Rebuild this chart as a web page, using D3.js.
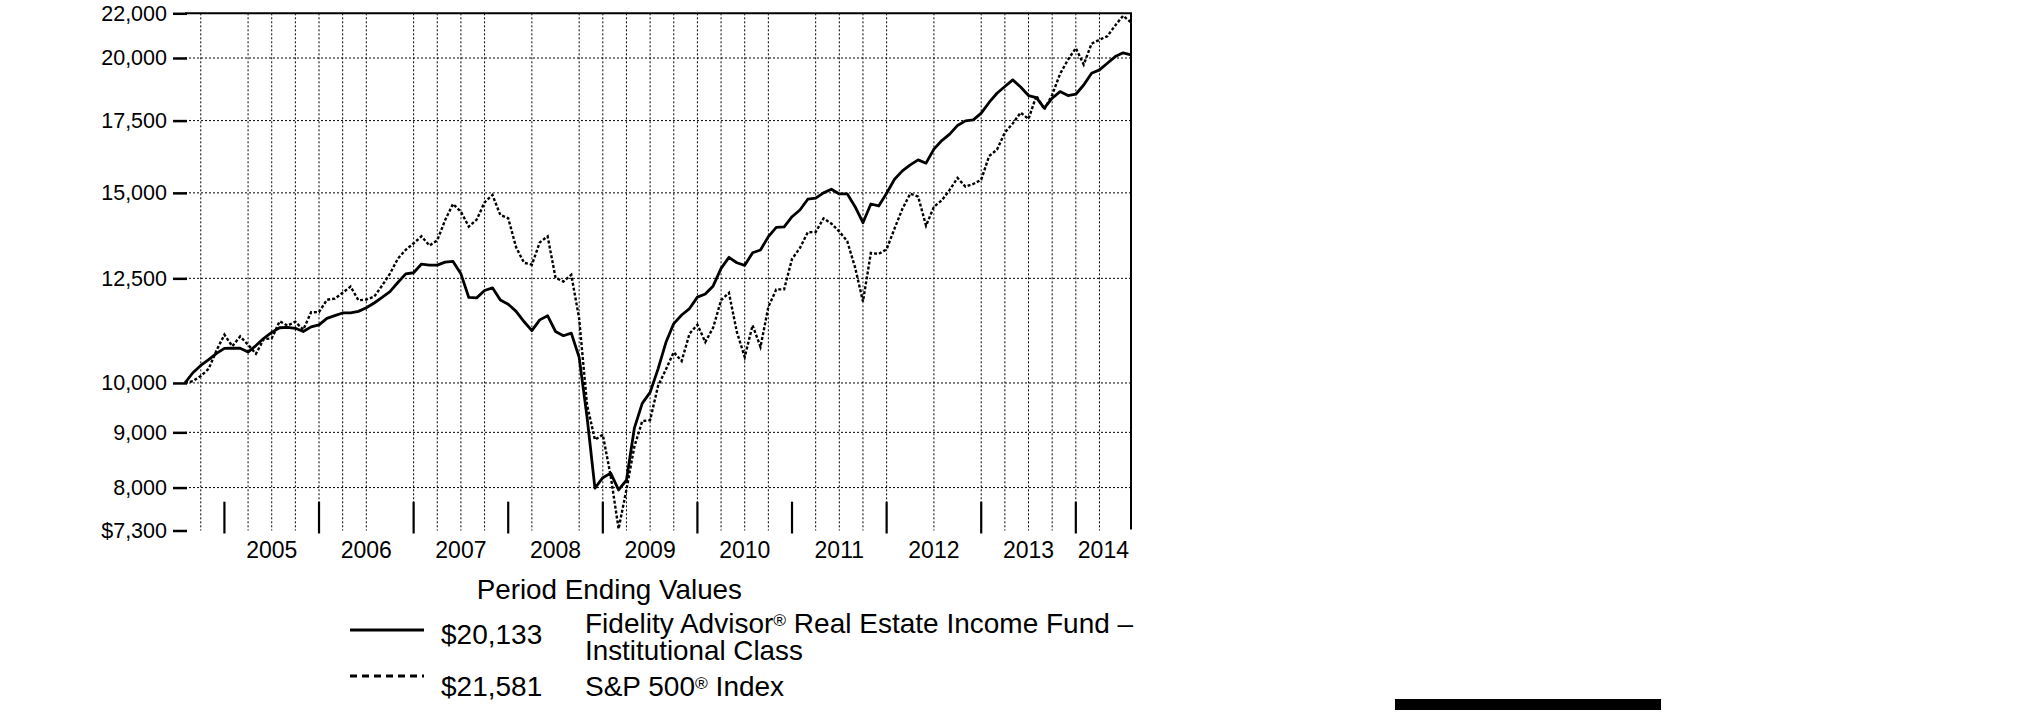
<!DOCTYPE html>
<html><head><meta charset="utf-8">
<script src="https://cdn.jsdelivr.net/npm/d3@7"></script>
<style>
body{margin:0;background:#fff}
svg{display:block}
text{font-family:"Liberation Sans",Arial,Helvetica,sans-serif;fill:#000}
</style>
</head><body>
<svg id="c" width="2025" height="728"></svg>
<script>
// Monthly values, Jul 31 2004 (index 0) to Jul 31 2014 (index 120)
const fundValues = [10000,10220,10380,10510,10650,10765,10768,10768,10680,10830,11000,11140,11250,11260,11236,11160,11270,11320,11478,11545,11610,
11610,11650,11740,11860,12000,12150,12390,12620,12650,12887,12860,12857,12940,12960,12620,12000,11990,12180,12250,11934,
11830,11650,11400,11180,11440,11540,11160,11060,11120,10560,9300,7990,8170,8250,7960,8130,9080,9575,9800,10300,
10900,11350,11560,11720,12010,12090,12300,12770,13073,12923,12851,13200,13278,13662,13938,13950,14256,14462,14798,14830,
15000,15117,14966,14970,14564,14075,14648,14586,14989,15443,15720,15922,16092,15980,16465,16770,17000,17320,17490,17528,
17780,18190,18550,18820,19087,18800,18460,18380,17970,18355,18617,18460,18512,18880,19362,19499,19778,20059,20220,20133];
const spValues = [10000,10040,10149,10304,10720,11085,10815,11043,10848,10642,10981,10997,11406,11302,11394,11204,11628,11632,11940,11972,12121,
12284,11930,11947,12021,12307,12625,13036,13284,13470,13673,13405,13555,14155,14649,14406,13960,14169,14699,14933,14309,
14210,13357,12923,12868,13495,13670,12518,12413,12593,11471,9545,8860,8954,8199,7326,7967,8730,9218,9236,9934,
10293,10677,10478,11107,11321,10913,11252,11930,12119,11151,10568,11309,10799,11762,12209,12211,13026,13335,13792,13798,
14206,14046,13811,13531,12796,11896,13196,13167,13301,13897,14497,14974,14880,13986,14562,14764,15096,15485,15199,15287,
15426,16225,16446,17063,17392,17799,17561,18455,17920,18483,19333,19923,20427,19720,20621,20794,20948,21440,21884,21581];

const yTickValues = [7300,8000,9000,10000,12500,15000,17500,20000,22000];
const yTickLabels = ["$7,300","8,000","9,000","10,000","12,500","15,000","17,500","20,000","22,000"];
const hGridValues = [8000,9000,10000,12500,15000,17500,20000];
const vGridMonths = [2,8,11,14,17,20,23,29,32,35,38,44,50,53,56,59,62,65,68,71,74,80,83,86,89,95,101,104,107,110,113,116];
const yearBoundaryMonths = [5,17,29,41,53,65,77,89,101,113];
const yearLabels = ["2005","2006","2007","2008","2009","2010","2011","2012","2013","2014"];
const legendTitle = "Period Ending Values";
const seriesNames = ["Fidelity Advisor® Real Estate Income Fund –|Institutional Class","S&P 500® Index"];
const endingLabels = ["$20,133","$21,581"];

const svg = d3.select("#c");
const L = 185, R = 1131, T = 13.3, B = 530.5;
const x = d3.scaleLinear().domain([0,120]).range([L,R]);
const y = d3.scaleLog().domain([7300,22000]).range([B,T]);

// grid
svg.append("g").selectAll("line").data(hGridValues).join("line")
  .attr("x1",L).attr("x2",R).attr("y1",d=>y(d)).attr("y2",d=>y(d))
  .attr("stroke","#000").attr("stroke-width",1).attr("stroke-dasharray","2,2");
svg.append("g").selectAll("line").data(vGridMonths).join("line")
  .attr("x1",d=>x(d)).attr("x2",d=>x(d)).attr("y1",T).attr("y2",B)
  .attr("stroke","#000").attr("stroke-width",1).attr("stroke-dasharray","2,2");

// frame top & right
svg.append("line").attr("x1",L).attr("x2",R+1).attr("y1",T).attr("y2",T).attr("stroke","#000").attr("stroke-width",2);
svg.append("line").attr("x1",R).attr("x2",R).attr("y1",T).attr("y2",B-1).attr("stroke","#000").attr("stroke-width",2);

// y axis
const yAxis = d3.axisLeft(y).tickValues(yTickValues).tickFormat((d,i)=>yTickLabels[i]).tickSize(14).tickPadding(6);
const ga = svg.append("g").attr("transform",`translate(${L+2},0)`).call(yAxis);
ga.select(".domain").remove();
ga.selectAll(".tick line").attr("stroke","#000").attr("stroke-width",2.5);
ga.selectAll(".tick text").attr("font-size",21.5).attr("font-family",null).attr("fill","#000");

// year boundary ticks
svg.append("g").selectAll("line").data(yearBoundaryMonths).join("line")
  .attr("x1",d=>x(d)).attr("x2",d=>x(d)).attr("y1",501.7).attr("y2",533.5)
  .attr("stroke","#000").attr("stroke-width",2.2);
// year labels
const bounds = yearBoundaryMonths.concat([120]);
svg.append("g").selectAll("text").data(yearLabels).join("text")
  .attr("x",(d,i)=>(x(bounds[i])+x(bounds[i+1]))/2).attr("y",557.5)
  .attr("text-anchor","middle").attr("font-size",23).text(d=>d);

// lines
const line = d3.line().x((d,i)=>x(i)).y(d=>y(d));
svg.append("path").datum(spValues).attr("d",line).attr("fill","none")
  .attr("stroke","#000").attr("stroke-width",2.4).attr("stroke-dasharray","3,2");
svg.append("path").datum(fundValues).attr("d",line).attr("fill","none")
  .attr("stroke","#000").attr("stroke-width",2.8).attr("stroke-linejoin","round");

// legend
const FS = 28;
const lg = svg.append("g");
lg.append("text").attr("x",476.7).attr("y",599).attr("font-size",27.8).text(legendTitle);
function richText(sel, str){
  const parts = str.split("®");
  parts.forEach((p,i)=>{
    sel.append("tspan").text(p);
    if(i<parts.length-1) sel.append("tspan").attr("font-size","0.62em").attr("baseline-shift","42%").text("®");
  });
}
lg.append("line").attr("x1",350).attr("x2",424).attr("y1",630).attr("y2",630).attr("stroke","#000").attr("stroke-width",3);
lg.append("text").attr("x",441).attr("y",644).attr("font-size",FS).text(endingLabels[0]);
const n0 = seriesNames[0].split("|");
richText(lg.append("text").attr("x",585).attr("y",633).attr("font-size",FS), n0[0]);
lg.append("text").attr("x",585).attr("y",660).attr("font-size",27.8).text(n0[1]);
lg.append("line").attr("x1",350).attr("x2",424).attr("y1",676).attr("y2",676).attr("stroke","#000").attr("stroke-width",3).attr("stroke-dasharray","7,5");
lg.append("text").attr("x",441).attr("y",696).attr("font-size",FS).text(endingLabels[1]);
richText(lg.append("text").attr("x",585).attr("y",696).attr("font-size",FS), seriesNames[1]);

// black bar
svg.append("rect").attr("x",1395).attr("y",699).attr("width",266).attr("height",11).attr("fill","#000");
</script>
</body></html>
